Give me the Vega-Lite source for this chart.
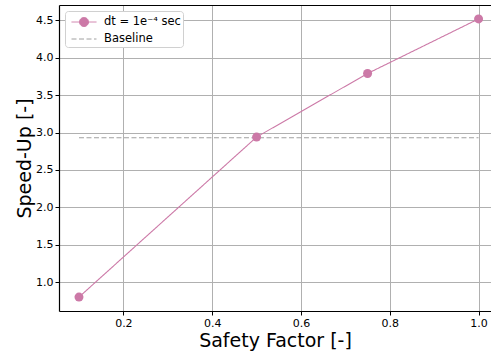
{
  "$schema": "https://vega.github.io/schema/vega-lite/v6.json",
  "width": 432,
  "height": 306,
  "autosize": {"type": "none"},
  "padding": {"left": 59, "top": 5, "right": 0, "bottom": 43},
  "background": "white",
  "config": {
    "view": {"stroke": null},
    "font": "DejaVu Sans",
    "axis": {
      "labelFont": "DejaVu Sans",
      "labelFontSize": 11,
      "labelColor": "#000",
      "titleFont": "DejaVu Sans",
      "titleFontSize": 19,
      "titleFontWeight": "normal",
      "titleColor": "#000",
      "domainColor": "#000",
      "domainWidth": 1.2,
      "tickColor": "#000",
      "tickSize": 4,
      "tickWidth": 1,
      "gridColor": "#b0b0b0",
      "gridWidth": 1,
      "labelPadding": 2
    }
  },
  "datasets": {
    "main": [
      {"sf": 0.1, "speedup": 0.80, "series": "dt = 1e⁻⁴ sec"},
      {"sf": 0.5, "speedup": 2.94, "series": "dt = 1e⁻⁴ sec"},
      {"sf": 0.75, "speedup": 3.79, "series": "dt = 1e⁻⁴ sec"},
      {"sf": 1.0, "speedup": 4.52, "series": "dt = 1e⁻⁴ sec"},
      {"sf": 0.1, "speedup": 2.93, "series": "Baseline"},
      {"sf": 1.0, "speedup": 2.93, "series": "Baseline"}
    ]
  },
  "layer": [
    {
      "data": {"name": "main"},
      "mark": {"type": "line", "strokeWidth": 1.1, "clip": true},
      "encoding": {
        "x": {
          "field": "sf", "type": "quantitative",
          "scale": {"domain": [0.055, 1.028], "nice": false, "zero": false},
          "axis": {"values": [0.2, 0.4, 0.6, 0.8, 1.0], "format": ".1f", "title": "Safety Factor [-]", "titlePadding": 3, "grid": true}
        },
        "y": {
          "field": "speedup", "type": "quantitative",
          "scale": {"domain": [0.614, 4.706], "nice": false, "zero": false},
          "axis": {"values": [1.0, 1.5, 2.0, 2.5, 3.0, 3.5, 4.0, 4.5], "format": ".1f", "title": "Speed-Up [-]", "titlePadding": 1, "grid": true}
        },
        "color": {
          "field": "series", "type": "nominal",
          "scale": {"domain": ["dt = 1e⁻⁴ sec", "Baseline"], "range": ["#cc79a7", "#a0a0a0"]},
          "legend": {
            "title": null,
            "orient": "top-left",
            "offset": 6,
            "padding": 2,
            "fillColor": "#ffffff",
            "strokeColor": "#d0d0d0",
            "cornerRadius": 3,
            "labelFont": "DejaVu Sans",
            "labelFontSize": 11.5,
            "labelColor": "#000",
            "labelOffset": 11,
            "symbolSize": 289,
            "symbolOffset": 8,
            "rowPadding": 1,
            "encode": {
              "symbols": {
                "update": {
                  "shape": {"signal": "datum.value === 'Baseline' ? 'M-1.47,0H1.47' : 'M-1.47,0H1.47M0.53,0A0.53,0.53,0,1,1,-0.53,0A0.53,0.53,0,1,1,0.53,0Z'"},
                  "fill": {"signal": "datum.value === 'Baseline' ? 'transparent' : '#cc79a7'"},
                  "strokeDash": {"signal": "datum.value === 'Baseline' ? [4, 2] : [1, 0]"},
                  "strokeWidth": {"value": 1},
                  "opacity": {"value": 1}
                }
              }
            }
          }
        },
        "strokeDash": {
          "field": "series", "type": "nominal",
          "scale": {"domain": ["dt = 1e⁻⁴ sec", "Baseline"], "range": [[1, 0], [5, 2.5]]},
          "legend": null
        }
      }
    },
    {
      "data": {"name": "main"},
      "transform": [{"filter": "datum.series !== 'Baseline'"}],
      "mark": {"type": "point", "filled": true, "size": 81, "opacity": 1, "shape": "circle"},
      "encoding": {
        "x": {
          "field": "sf", "type": "quantitative",
          "axis": {"orient": "top", "labels": false, "ticks": false, "grid": false, "title": null, "domain": true}
        },
        "y": {"field": "speedup", "type": "quantitative"},
        "color": {"field": "series", "type": "nominal"}
      }
    }
  ],
  "resolve": {"axis": {"x": "independent"}}
}
